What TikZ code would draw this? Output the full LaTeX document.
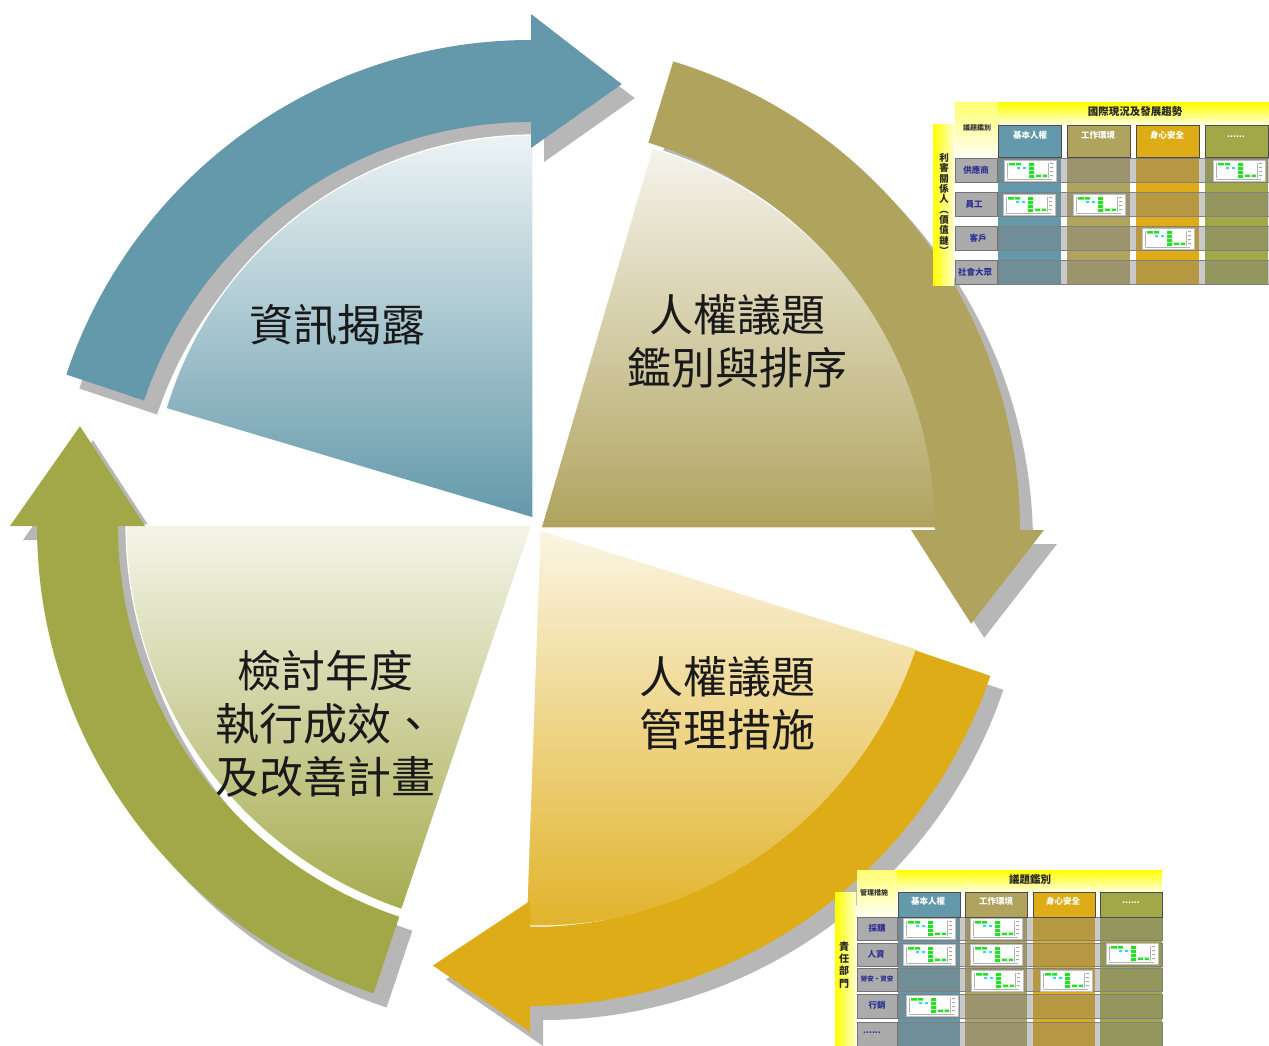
\documentclass[tikz,border=0pt]{standalone}
\usepackage{fontspec}
\setmainfont{Noto Sans CJK TC}
\usetikzlibrary{calc}
\definecolor{cblue}{HTML}{6399AA}
\definecolor{colive}{HTML}{B0A35E}
\definecolor{cgold}{HTML}{DEAC16}
\definecolor{cgreen}{HTML}{A2A847}
\definecolor{cshadow}{HTML}{B7B7B7}
\definecolor{rowblue}{HTML}{2E3192}
\definecolor{tgreen}{HTML}{22E022}
\definecolor{tcyan}{HTML}{33D8EE}
% ring arrow: cx, cy, r_in, r_out, tail angle, base angle, tip angle, tip radius, head extension
\newcommand\segarrow[9]{([shift={(#1,#2)}]#5:#4) arc[start angle=#5,end angle=#6,radius=#4] -- ([shift={(#1,#2)}]#6:{#4+#9}) -- ([shift={(#1,#2)}]#7:#8) -- ([shift={(#1,#2)}]#6:{#3-#9}) -- ([shift={(#1,#2)}]#6:#3) arc[start angle=#6,end angle=#5,radius=#3] -- cycle}
% pie segment: apex x, apex y, start angle, end angle, radius
\newcommand\pieseg[5]{(#1,#2) -- ++(#3:#5) arc[start angle=#3,end angle=#4,radius=#5] -- cycle}
\newcommand\minichart[2]{%
 \begin{scope}[shift={(#1,-#2)}]
  \fill[white] (0,0) rectangle (52,-21);
  \draw[black!25, line width=0.3pt] (0,0) rectangle (52,-21);
  \draw[black!30, line width=0.3pt] (3,-3) -- (3,-18) (44,-3) -- (44,-18) (3,-19.5) -- (48,-19.5);
  \fill[tgreen] (5,-3) rectangle (11,-5.5) (12,-3) rectangle (17,-5.5)
     (25,-3) rectangle (30,-6) (25,-7) rectangle (30,-10) (25,-11) rectangle (30,-14) (25,-15) rectangle (30,-18)
     (32,-14.5) rectangle (37,-17) (38.5,-14.5) rectangle (43,-17);
  \fill[tcyan] (13,-7) rectangle (16,-9) (19,-7) rectangle (22,-9);
  \fill[black!35] (46,-3) rectangle (49,-4) (46,-7) rectangle (49,-8) (46,-11) rectangle (49,-12) (46,-15) rectangle (49,-16);
 \end{scope}}
\begin{document}
\begin{tikzpicture}[x=1pt,y=1pt,
  big/.style={font=\fontsize{44}{53}\selectfont, text=black!90, align=center, inner sep=0pt},
  hdr/.style={font=\fontsize{8.5}{9}\selectfont\bfseries, text=white, inner sep=0pt},
  rowlab/.style={font=\fontsize{8.5}{9}\selectfont\bfseries, text=rowblue, inner sep=0pt},
  corner/.style={font=\fontsize{7}{8}\selectfont\bfseries, text=black!80, inner sep=0pt},
  ttl/.style={font=\fontsize{10.5}{11}\selectfont\bfseries, text=black!85, inner sep=0pt},
  vert/.style={align=center, inner sep=0pt, text=black!85},
  colhead/.style={draw=black!70, line width=0.6pt},
  rowbox/.style={draw=black!55, line width=0.5pt, fill=black!33},
  overlay/.style={fill=black!50, opacity=0.42},
  segedge/.style={draw=white, line width=1.2pt},
]
\useasboundingbox (0,0) rectangle (1269,-1046);
\clip (0,0) rectangle (1269,-1046);
\fill[white] (0,0) rectangle (1269,-1046);

% shadows
\begin{scope}[shift={(13,-14)}]
  \fill[cshadow] \segarrow{531}{-530}{408}{490}{161.5}{90}{78.5}{455}{26};
  \fill[cshadow] \segarrow{530}{-530}{405}{490}{73}{0}{-12}{451}{24};
  \fill[cshadow] \segarrow{530}{-520}{407}{486}{-18.7}{-90}{-102.3}{456}{26};
  \fill[cshadow] \segarrow{530}{-526}{412}{493}{251.5}{180}{167.5}{461}{27};
\end{scope}

% wedges
\path[segedge, top color=cblue!12!white, bottom color=cblue] \pieseg{533}{-518}{90}{163.4}{383};
\path[segedge, top color=colive!12!white, bottom color=colive] \pieseg{541}{-528}{0}{73.7}{396};
\path[segedge, top color=cgold!12!white, bottom color=cgold!92!white] \pieseg{540}{-530}{-92}{-17.5}{396};
\path[segedge, top color=cgreen!12!white, bottom color=cgreen!95!white] \pieseg{532}{-525}{180}{251.3}{406};

% arrows
\fill[cblue] \segarrow{531}{-530}{408}{490}{161.5}{90}{78.5}{455}{26};
\fill[colive] \segarrow{530}{-530}{405}{490}{73}{0}{-12}{451}{24};
\fill[cgold] \segarrow{530}{-520}{407}{486}{-18.7}{-90}{-102.3}{456}{26};
\fill[cgreen] \segarrow{530}{-526}{412}{493}{251.5}{180}{167.5}{461}{27};

% labels
\node[big] (disclose) at (337,-325) {資訊揭露};
\node[big] (identify) at (737,-341) {人權議題\\鑑別與排序};
\node[big] (manage) at (727,-703) {人權議題\\管理措施};
\node[big] (review) at (325,-724) {檢討年度\\執行成效、\\及改善計畫};

% ---------- table 1 ----------
\path[top color=yellow!55!white, bottom color=yellow!5!white] (955,-103) rectangle (998,-157);
\path[top color=yellow, bottom color=yellow!12!white] (998,-103) rectangle (1269,-125);
\path[left color=yellow, right color=yellow!20!white] (933,-125) rectangle (954,-285);
\foreach \x/\c in {998/cblue,1067/colive,1136/cgold,1205/cgreen}{
  \fill[\c] (\x,-125) rectangle ++(63,-160);
}
\foreach \y in {158,192,226,260}{
  \fill[overlay] (998,-\y) rectangle (1269,-\y-24);
  \draw[black!50, line width=0.5pt] (998,-\y) rectangle (1269,-\y-24);
  \fill[rowbox] (955,-\y) rectangle (997,-\y-24);
}
\foreach \x/\c in {998/cblue,1067/colive,1136/cgold,1205/cgreen}{
  \draw[colhead] (\x,-125) rectangle ++(63,-32);
}
\minichart{1004}{160}
\minichart{1003}{194}
\minichart{1073}{194}
\minichart{1142}{228}
\minichart{1213}{160}
\node[ttl] (t1title) at (1135,-112) {國際現況及發展趨勢};
\node[corner] (t1corner) at (977,-128) {議題鑑別};
\node[hdr] (t1c1) at (1030,-135) {基本人權};
\node[hdr] (t1c2) at (1098,-135) {工作環境};
\node[hdr] (t1c3) at (1167,-135) {身心安全};
\node[hdr] (t1c4) at (1236,-137) {......};
\node[rowlab] (t1r1) at (976,-170) {供應商};
\node[rowlab] (t1r2) at (974,-204) {員工};
\node[rowlab] (t1r3) at (978,-238) {客戶};
\node[rowlab] (t1r4) at (975,-272) {社會大眾};
\node[vert, font=\fontsize{9.5}{10.3}\selectfont\bfseries] (t1side) at (944,-204) {利\\害\\關\\係\\人\\︵\\價\\值\\鏈\\︶};

% ---------- table 2 ----------
\path[top color=yellow!55!white, bottom color=yellow!5!white] (857,-870) rectangle (897,-917);
\path[top color=yellow, bottom color=yellow!12!white] (897,-870) rectangle (1162,-892);
\path[left color=yellow, right color=yellow!20!white] (835,-892) rectangle (856,-1046);
\foreach \x/\c in {898/cblue,965/colive,1033/cgold,1100/cgreen}{
  \fill[\c] (\x,-892) rectangle ++(62,-160);
}
\foreach \y/\h in {917/23,943/23,968/23,994/24,1022/25}{
  \fill[overlay] (898,-\y) rectangle (1162,-\y-\h);
  \draw[black!50, line width=0.5pt] (898,-\y) rectangle (1162,-\y-\h);
  \fill[rowbox] (857,-\y) rectangle (897,-\y-\h);
}
\foreach \x/\c in {898/cblue,965/colive,1033/cgold,1100/cgreen}{
  \draw[colhead] (\x,-892) rectangle ++(62,-25);
}
\minichart{903}{918}
\minichart{903}{944}
\minichart{970}{918}
\minichart{970}{944}
\minichart{971}{970}
\minichart{1040}{970}
\minichart{906}{995}
\minichart{1106}{943}
\node[ttl] (t2title) at (1030,-880) {議題鑑別};
\node[corner] (t2corner) at (874,-893) {管理措施};
\node[hdr] (t2c1) at (928,-901) {基本人權};
\node[hdr] (t2c2) at (996,-901) {工作環境};
\node[hdr] (t2c3) at (1063,-901) {身心安全};
\node[hdr] (t2c4) at (1131,-903) {......};
\node[rowlab] (t2r1) at (877,-928) {採購};
\node[rowlab] (t2r2) at (876,-954) {人資};
\node[rowlab, font=\fontsize{6.5}{7}\selectfont\bfseries] (t2r3) at (877,-979) {勞安・資安};
\node[rowlab] (t2r4) at (877,-1005) {行銷};
\node[rowlab] (t2r5) at (872,-1033) {......};
\node[vert, font=\fontsize{10}{12.3}\selectfont\bfseries] (t2side) at (844,-965) {責\\任\\部\\門};
\end{tikzpicture}
\end{document}
